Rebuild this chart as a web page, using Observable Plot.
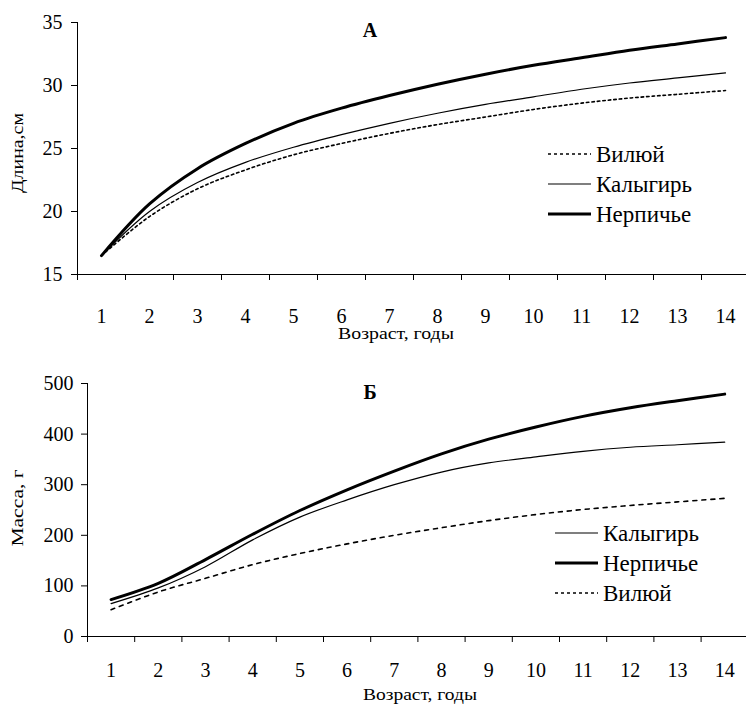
<!DOCTYPE html>
<html>
<head>
<meta charset="utf-8">
<script src="https://cdn.jsdelivr.net/npm/d3@7"></script>
<script src="https://cdn.jsdelivr.net/npm/@observablehq/plot@0.6"></script>
<style>
  html, body { margin: 0; padding: 0; background: #fff; }
  #chart { width: 746px; height: 704px; overflow: hidden; }
  svg { display: block; }
  #chart svg, #chart svg text { font-family: "Liberation Serif", "DejaVu Serif", serif !important; }
</style>
</head>
<body>
<div id="chart"></div>
<script>
// ---- Data ----
const ages = [1, 2, 3, 4, 5, 6, 7, 8, 9, 10, 11, 12, 13, 14];
const ageTickLabels = ages.map(String);

// A: length, cm
const lenVilyuy    = [16.5, 19.6, 21.8, 23.3, 24.5, 25.4, 26.2, 26.9, 27.5, 28.1, 28.6, 29.0, 29.3, 29.6];
const lenKalygir   = [16.5, 20.0, 22.3, 23.9, 25.1, 26.1, 27.0, 27.8, 28.5, 29.1, 29.7, 30.2, 30.6, 31.0];
const lenNerpichye = [16.5, 20.6, 23.4, 25.4, 27.0, 28.2, 29.2, 30.1, 30.9, 31.6, 32.2, 32.8, 33.3, 33.8];

// Б: mass, g
const massVilyuy    = [53, 88, 115, 142, 164, 183, 200, 215, 229, 241, 251, 259, 266, 273];
const massKalygir   = [65, 96, 138, 191, 236, 270, 300, 325, 343, 355, 366, 374, 379, 384];
const massNerpichye = [73, 105, 152, 202, 249, 290, 327, 361, 390, 414, 435, 452, 466, 479];

const lenTicks = [15, 20, 25, 30, 35];
const massTicks = [0, 100, 200, 300, 400, 500];

const FONT = "Liberation Serif, DejaVu Serif, serif";

const styles = {
  vilyuy:    { strokeWidth: 1.6, strokeDasharray: "3,3" },
  kalygir:   { strokeWidth: 1.2, strokeDasharray: null },
  nerpichye: { strokeWidth: 3,   strokeDasharray: null }
};

function rows(vals) { return ages.map((a, i) => ({ age: a, v: vals[i] })); }

function seriesLine(vals, st, dash) {
  return Plot.line(rows(vals), {
    x: "age", y: "v", stroke: "black",
    strokeWidth: st.strokeWidth,
    strokeDasharray: dash || st.strokeDasharray || undefined,
    curve: "catmull-rom"
  });
}

function panel(opts) {
  const p = Plot.plot({
    width: 746,
    height: opts.height,
    marginLeft: opts.left,
    marginRight: 0,
    marginTop: opts.top,
    marginBottom: opts.bottom,
    style: { fontFamily: FONT, fontSize: "20px", background: "white", color: "black" },
    x: { type: "linear", domain: [0.5, 14.5], range: [opts.left, opts.left + 14 * opts.band] },
    y: { domain: opts.ydomain },
    marks: [
      Plot.ruleY([opts.ydomain[0]], { stroke: "black", strokeWidth: 1 }),
      Plot.ruleX([0.5], { stroke: "black", strokeWidth: 1 }),
      Plot.axisY({ ticks: opts.yticks, tickSize: 6, tickPadding: opts.ypad, label: null, fontSize: 20 }),
      Plot.axisX({ ticks: d3.range(0.5, 14, 1), tickSize: 6, tickFormat: () => "", label: null }),
      Plot.axisX({ ticks: ages, tickSize: 0, tickPadding: opts.xpad, tickFormat: (d) => ageTickLabels[d - 1], label: null, fontSize: 20 }),
      ...opts.lines
    ]
  });
  const svg = d3.select(p);
  svg.attr("font-family", FONT);
  // panel letter
  svg.append("text").attr("x", 370).attr("y", opts.letterY)
    .attr("text-anchor", "middle").attr("font-weight", "bold").attr("font-size", 20)
    .text(opts.letter);
  // axis titles
  svg.append("text").attr("x", opts.xTitleX).attr("y", opts.xTitleY)
    .attr("text-anchor", "middle").attr("font-size", 16)
    .attr("textLength", opts.xTitleLen).attr("lengthAdjust", "spacingAndGlyphs")
    .text("Возраст, годы");
  svg.append("text").attr("transform", `translate(17,${opts.yTitleY}) rotate(-90)`)
    .attr("text-anchor", "middle").attr("dominant-baseline", "central")
    .attr("font-size", 16)
    .attr("textLength", opts.yTitleLen).attr("lengthAdjust", "spacingAndGlyphs")
    .text(opts.yTitle);
  // legend
  const lg = svg.append("g");
  opts.legend.forEach((item, i) => {
    const y = opts.legY + i * 30;
    lg.append("line").attr("x1", opts.legX1).attr("x2", opts.legX2).attr("y1", y).attr("y2", y)
      .attr("stroke", "black").attr("stroke-width", item.st.strokeWidth)
      .attr("stroke-dasharray", item.st.strokeDasharray);
    lg.append("text").attr("x", opts.legX2 + 5).attr("y", y + 7.5)
      .attr("text-anchor", "start")
      .attr("font-size", 23).text(item.name);
  });
  return p;
}

const topPanel = panel({
  height: 345, left: 77, top: 22, bottom: 71, band: 48,
  ydomain: [15, 35], yticks: lenTicks, ypad: 9, xpad: 34,
  letter: "А", letterY: 37,
  xTitleX: 396, xTitleY: 339, xTitleLen: 116,
  yTitle: "Длина,см", yTitleY: 153, yTitleLen: 80,
  legY: 154, legX1: 548, legX2: 591,
  legend: [
    { name: "Вилюй", st: styles.vilyuy },
    { name: "Калыгирь", st: styles.kalygir },
    { name: "Нерпичье", st: styles.nerpichye }
  ],
  lines: [
    seriesLine(lenVilyuy, styles.vilyuy, "2.5,3"),
    seriesLine(lenKalygir, styles.kalygir),
    seriesLine(lenNerpichye, styles.nerpichye)
  ]
});

const bottomPanel = panel({
  height: 359, left: 87, top: 38, bottom: 68, band: 47.2,
  ydomain: [0, 500], yticks: massTicks, ypad: 8, xpad: 26,
  letter: "Б", letterY: 54,
  xTitleX: 420, xTitleY: 355, xTitleLen: 114,
  yTitle: "Масса, г", yTitleY: 163, yTitleLen: 77,
  legY: 188, legX1: 555, legX2: 598,
  legend: [
    { name: "Калыгирь", st: styles.kalygir },
    { name: "Нерпичье", st: styles.nerpichye },
    { name: "Вилюй", st: styles.vilyuy }
  ],
  lines: [
    seriesLine(massVilyuy, styles.vilyuy, "4,5"),
    seriesLine(massKalygir, styles.kalygir),
    seriesLine(massNerpichye, styles.nerpichye)
  ]
});

const chart = document.getElementById("chart");
chart.appendChild(topPanel);
chart.appendChild(bottomPanel);
</script>
</body>
</html>
